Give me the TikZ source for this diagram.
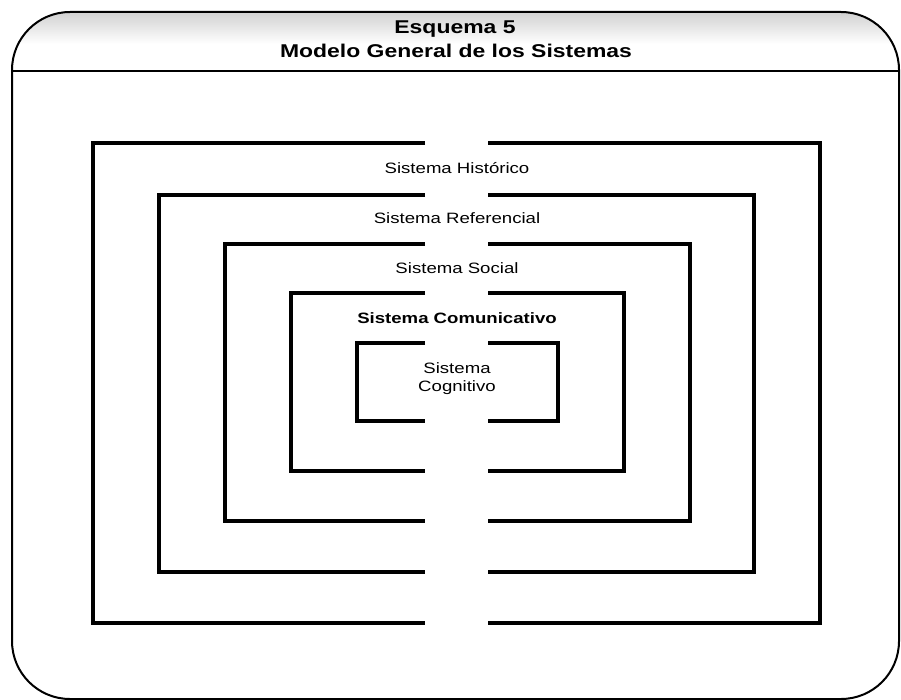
\documentclass[tikz,border=0pt]{standalone}
\usepackage{fontspec}
\setmainfont[FakeStretch=1.24]{Liberation Sans}
\tikzset{
  frameline/.style={line width=2pt, black},
  boxline/.style={line width=3.2pt, black, line join=miter},
  lbl/.style={font=\fontsize{15}{18}\selectfont, inner sep=0pt, align=center},
  lblbold/.style={lbl, font=\fontsize{15}{18}\selectfont\bfseries},
  ttl/.style={font=\fontsize{18.5}{22}\selectfont\bfseries, inner sep=0pt}
}
\begin{document}
\begin{tikzpicture}[x=1pt,y=-1pt]
\useasboundingbox (0,0) rectangle (901,700);
% header shading (scan texture)
\begin{scope}
  \clip[rounded corners=58pt] (12,12) rectangle (899,699);
  \shade[top color=black!18, bottom color=white] (12,12) rectangle (899,44);
\end{scope}
% frame
\draw[frameline, rounded corners=58pt] (12,12) rectangle (899,699);
\draw[frameline] (12,71) -- (899,71);
% title
\node[ttl] (t1) at (455,29) {Esquema 5};
\node[ttl] (t2) at (456,51) {Modelo General de los Sistemas};
% nested systems: left and right halves with gaps at top and bottom
\foreach \L/\R/\T/\B in {93/820/143/623, 159/754/195/572, 225/690/244/521, 291/624/293/471, 357/558/343/421}{
  \draw[boxline] (425,\T) -- (\L,\T) -- (\L,\B) -- (425,\B);
  \draw[boxline] (488,\T) -- (\R,\T) -- (\R,\B) -- (488,\B);
}
% labels
\node[lbl] (hist) at (457,168) {Sistema Histórico};
\node[lbl] (ref) at (457,218) {Sistema Referencial};
\node[lbl] (soc) at (457,268) {Sistema Social};
\node[lblbold] (com) at (457,318) {Sistema Comunicativo};
\node[lbl] (cog) at (457,379) {Sistema\\Cognitivo};
\end{tikzpicture}
\end{document}
